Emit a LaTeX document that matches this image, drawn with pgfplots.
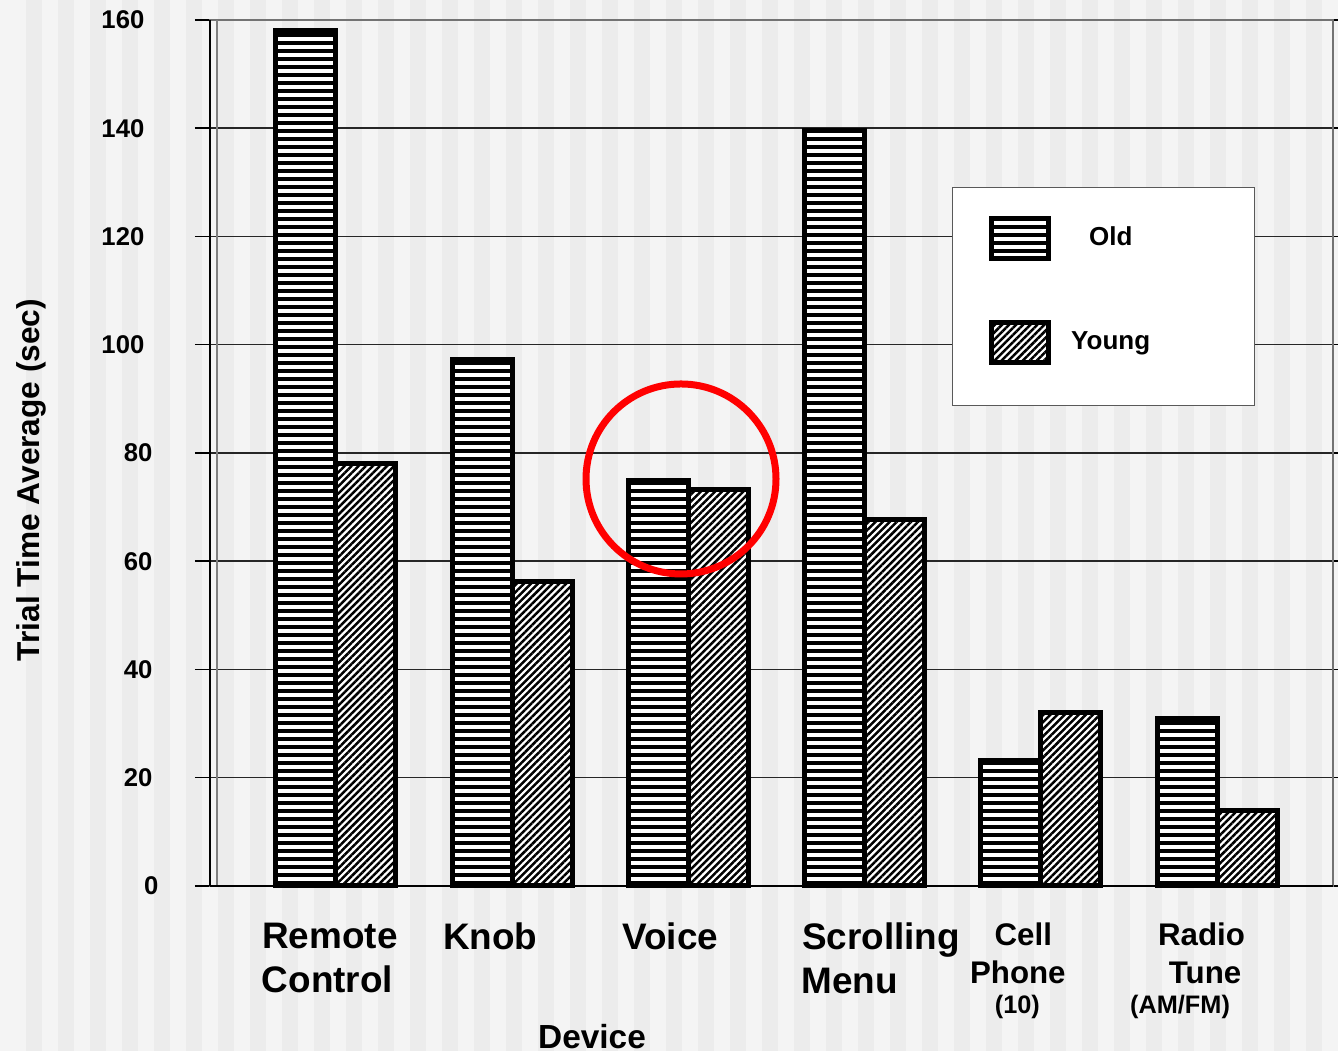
\documentclass[border=0pt]{standalone}
\usepackage{fontspec}
\setmainfont{Liberation Sans}
\usepackage{pgfplots}
\usepackage{pgfplotstable}
\pgfplotsset{compat=1.18}
\usetikzlibrary{patterns.meta}

\definecolor{stripeA}{HTML}{F4F4F4}
\definecolor{stripeB}{HTML}{ECECEC}

% bar fills: horizontal hatching for the older group, diagonal for the younger
\tikzset{
  oldfill/.style={preaction={fill=white}, pattern={Lines[angle=0,distance=0.8mm,line width=0.44mm]}, pattern color=black, draw=black, line width=0.5mm},
  youngfill/.style={preaction={fill=white}, pattern={Lines[angle=45,distance=0.5mm,line width=0.25mm]}, pattern color=black, draw=black, line width=0.5mm},
}

% one tick-label line, centred at the tick and moved sideways by half of #1
\newcommand{\lbl}[2]{\makebox[0pt]{\hspace*{#1}#2}}

\pgfplotstableread{
x old young
0 158.0 78.1
1 97.3 56.3
2 75.0 73.2
3 139.6 67.7
4 23.1 32.1
5 30.9 14.0
}\devicedata

\begin{document}
\begin{tikzpicture}
% striped backdrop (axis box lower-left corner sits at the origin)
\fill[stripeA] (-2.10,-1.65) rectangle (11.28,8.86);
\foreach \k in {0,...,40} {
  \fill[stripeB] ({-2.10+0.26+0.32*\k},-1.65) rectangle ({-2.10+0.42+0.32*\k},8.86);
}
\begin{axis}[
  at={(0,0)}, anchor=south west,
  scale only axis, width=11.23cm, height=8.66cm,
  clip=false,
  ybar=0pt, bar width=0.6cm,
  xmin=-0.715, xmax=5.658,
  ymin=0, ymax=160,
  xtick={0,...,5},
  xtick style={draw=none},
  xticklabels={
    {\lbl{-1.2mm}{Remote}\\\lbl{-1.7mm}{Control}},
    {\lbl{-4.4mm}{Knob}},
    {\lbl{-3.6mm}{Voice}},
    {\lbl{3.3mm}{Scrolling}\\\lbl{-3.0mm}{Menu}},
    {\lbl{-3.5mm}{\fontsize{8.9}{10.8}\selectfont Cell}\\[-1.8pt]\lbl{-4.6mm}{\fontsize{8.9}{10.8}\selectfont Phone}\\[-4.0pt]\lbl{-4.7mm}{\fontsize{7.2}{8.6}\selectfont (10)}},
    {\lbl{-3.1mm}{\fontsize{8.9}{10.8}\selectfont Radio}\\[-1.8pt]\lbl{-2.4mm}{\fontsize{8.9}{10.8}\selectfont Tune}\\[-4.0pt]\lbl{-7.4mm}{\fontsize{7.2}{8.6}\selectfont (AM/FM)}}
  },
  xticklabel style={anchor=north, align=center, inner sep=0pt, yshift=-2.1mm,
    font=\bfseries\fontsize{10.5}{12.6}\selectfont},
  ytick={0,20,...,160},
  yticklabels={{0\hspace*{-0.6mm}},20,40,60,80,{100\hspace*{0.8mm}},{120\hspace*{0.8mm}},{140\hspace*{0.8mm}},{160\hspace*{0.8mm}}},
  yticklabel style={anchor=east, inner sep=0pt, xshift=-4.2mm, font=\bfseries\fontsize{7.3}{8.8}\selectfont},
  tick align=outside, major tick length=1.5mm,
  ytick style={black, line width=0.15mm},
  ymajorgrids,
  major grid style={black!85, line width=0.15mm},
  axis line style={draw=black!55, line width=0.2mm},
  /pgf/number format/assume math mode=true,
  xlabel={Device},
  every axis x label/.style={at={(rel axis cs:0.3402,0)}, anchor=base, yshift=-16.3mm,
    font=\bfseries\fontsize{9.5}{11}\selectfont},
  ylabel={Trial Time Average (sec)},
  every axis y label/.style={at={(rel axis cs:-0.1594,0.4688)}, anchor=center, rotate=90,
    font=\bfseries\fontsize{9}{11}\selectfont},
  legend image code/.code={
    % reserve the padding of the cell without painting it
    \pgfpathrectangle{\pgfpoint{-0.38cm}{-0.58cm}}{\pgfpoint{1cm}{1.04cm}}\pgfusepath{}
    \draw[#1] (0.01cm,-0.2cm) rectangle (0.58cm,0.2cm);
  },
  legend style={at={(rel axis cs:0.6607,0.8072)}, anchor=north west,
    draw=black!65, line width=0.15mm, fill=white,
    inner xsep=0pt, inner ysep=0.05cm, row sep=0pt, column sep=0pt,
    font=\bfseries\fontsize{7.4}{9}\selectfont,
    nodes={inner sep=0pt, text width=2.02cm, align=left}},
]
\addplot[oldfill] table[x=x, y=old] {\devicedata};
\addlegendentry{\makebox[1.16cm]{Old}}
\addplot[youngfill] table[x=x, y=young] {\devicedata};
\addlegendentry{\makebox[1.16cm]{Young}}

% wall edges of the plot frame
\draw[black, line width=0.15mm] (rel axis cs:0,0) -- (rel axis cs:0,1);
\draw[black!50, line width=0.2mm] ([xshift=0.67mm]rel axis cs:0,0) -- ([xshift=0.67mm]rel axis cs:0,1);
\draw[black, line width=0.15mm] (rel axis cs:0,0) -- (rel axis cs:1,0);

% highlight around the Voice pair
\draw[red, line width=0.7mm] (axis cs:1.958,75.2) circle[radius=0.95cm];
\end{axis}
\pgfresetboundingbox
\useasboundingbox (-2.10,-1.65) rectangle (11.28,8.86);
\end{tikzpicture}
\end{document}
